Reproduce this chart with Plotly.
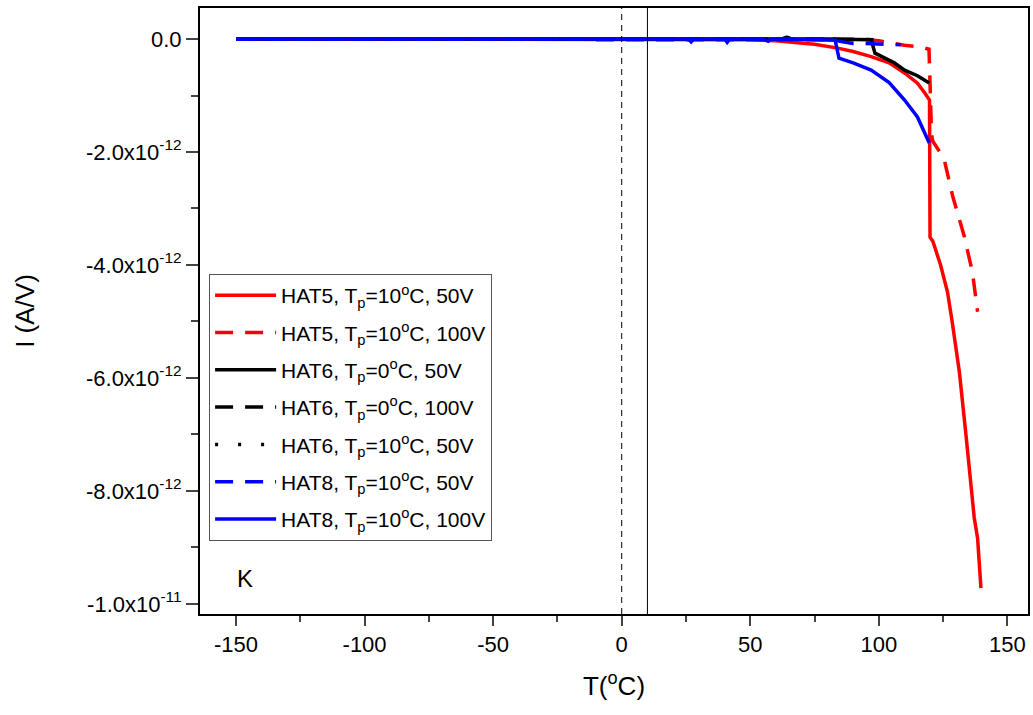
import plotly.graph_objects as go

S = 1e-12
# HAT5, Tp=10C, 50V (red solid)
t_hat5_50 = [-150, -100, -50, 0, 30, 50, 60, 65, 75, 84, 90, 97, 104, 110, 115, 117.8, 119.7, 119.9, 121, 124, 126.7, 128.5, 130, 131.3, 133.9, 135.2, 137.1, 138.4, 139.7]
i_hat5_50 = [0, 0, 0, 0, 0, -0.01, -0.03, -0.05, -0.09, -0.16, -0.22, -0.31, -0.42, -0.6, -0.78, -0.95, -1.08, -3.51, -3.58, -4.0, -4.48, -5.0, -5.54, -5.89, -7.02, -7.6, -8.48, -8.84, -9.72]
# HAT5, Tp=10C, 100V (red dashed)
t_hat5_100 = [-150, -100, -50, 0, 50, 80, 95, 100, 105, 110, 116, 119.5, 120.5, 121, 123, 125.4, 128.7, 131, 133.2, 136.4, 138.4]
i_hat5_100 = [0, 0, 0, 0, 0, 0, -0.01, -0.03, -0.07, -0.11, -0.14, -0.18, -1.7, -1.81, -1.95, -2.13, -2.78, -3.15, -3.49, -4.13, -4.83]
# HAT6, Tp=0C, 50V (black solid)
t_hat6_0_50 = [-150, -100, -50, 0, 50, 62, 64, 66, 80, 97, 98.5, 102, 106, 110, 115, 119.6]
i_hat6_0_50 = [0, 0, 0, 0, 0, 0, 0.03, 0, 0, -0.01, -0.25, -0.33, -0.42, -0.55, -0.65, -0.78]
# HAT6, Tp=0C, 100V (black dashed)
t_hat6_0_100 = [-150, -100, -50, 0, 50, 80, 95, 98]
i_hat6_0_100 = [0, 0, 0, 0, 0, 0, 0, -0.01]
# HAT6, Tp=10C, 50V (black dotted)
t_hat6_10_50 = [-150, -101, -100, -99, -50, 0, 50, 63, 64.5, 66, 90]
i_hat6_10_50 = [0, 0, 0.02, 0, 0, 0, 0, 0, 0.03, 0, 0]
# HAT8, Tp=10C, 50V (blue dashed)
t_hat8_50 = [-150, -100, -50, 0, 50, 80, 86, 90, 95, 100, 105, 108.5]
i_hat8_50 = [0, 0, 0, 0, 0, 0, -0.05, -0.08, -0.08, -0.09, -0.1, -0.1]
# HAT8, Tp=10C, 100V (blue solid)
t_hat8_100 = [-150, -100, -50, 0, 20, 26, 27, 28, 35, 40, 41, 42, 55, 57, 58, 62, 83, 84.5, 90, 97, 104, 110, 115, 119.6]
i_hat8_100 = [0, 0, 0, 0, 0, 0, -0.05, 0, 0, 0, -0.06, 0, 0, -0.04, 0, 0, -0.02, -0.34, -0.42, -0.55, -0.77, -1.08, -1.38, -1.84]

series = [
    ("HAT5, T<sub>p</sub>=10<sup>o</sup>C, 50V", t_hat5_50, i_hat5_50, "#ff0000", "solid"),
    ("HAT5, T<sub>p</sub>=10<sup>o</sup>C, 100V", t_hat5_100, i_hat5_100, "#ff0000", "18px,12px"),
    ("HAT6, T<sub>p</sub>=0<sup>o</sup>C, 50V", t_hat6_0_50, i_hat6_0_50, "#000000", "solid"),
    ("HAT6, T<sub>p</sub>=0<sup>o</sup>C, 100V", t_hat6_0_100, i_hat6_0_100, "#000000", "18px,12px"),
    ("HAT6, T<sub>p</sub>=10<sup>o</sup>C, 50V", t_hat6_10_50, i_hat6_10_50, "#000000", "3px,20px"),
    ("HAT8, T<sub>p</sub>=10<sup>o</sup>C, 50V", t_hat8_50, i_hat8_50, "#0000ff", "18px,12px"),
    ("HAT8, T<sub>p</sub>=10<sup>o</sup>C, 100V", t_hat8_100, i_hat8_100, "#0000ff", "solid"),
]

y_tickvals = [0, -2e-12, -4e-12, -6e-12, -8e-12, -1e-11]
y_ticktext = ["0.0", "-2.0x10<sup>-12</sup>", "-4.0x10<sup>-12</sup>", "-6.0x10<sup>-12</sup>",
              "-8.0x10<sup>-12</sup>", "-1.0x10<sup>-11</sup>"]
y_minor = [-1e-12, -3e-12, -5e-12, -7e-12, -9e-12]
x_tickvals = [-150, -100, -50, 0, 50, 100, 150]
x_ticktext = ["-150", "-100", "-50", "0", "50", "100", "150"]
x_minor = [-125, -75, -25, 25, 75, 125]

fig = go.Figure()
for k, (name, t, i, col, dash) in enumerate(series):
    fig.add_trace(go.Scatter(
        x=t, y=[v * S for v in i], mode="lines", name=name,
        legendgroup=f"g{k}",
        line=dict(color=col, width=3.5, dash=dash),
    ))

fig.add_shape(type="line", xref="x", yref="paper", x0=0, x1=0, y0=0, y1=1,
              line=dict(color="black", width=1, dash="6px,5px"))
fig.add_shape(type="line", xref="x", yref="paper", x0=10, x1=10, y0=0, y1=1,
              line=dict(color="black", width=1))

fig.add_annotation(text="K", xref="paper", yref="paper", x=0.054, y=0.059,
                   showarrow=False, font=dict(size=24, color="black"),
                   xanchor="center", yanchor="middle")

font_family = "Liberation Sans, Arial, sans-serif"
fig.update_layout(
    width=1033, height=715,
    margin=dict(l=200, r=3, t=8, b=101),
    plot_bgcolor="white", paper_bgcolor="white",
    font=dict(family=font_family, color="black", size=21),
    showlegend=True,
    legend=dict(x=0.011, y=0.561, xanchor="left", yanchor="top",
                bordercolor="#555555", borderwidth=1, bgcolor="white",
                font=dict(size=21), tracegroupgap=7, itemwidth=61),
    xaxis=dict(range=[-164, 158], tickvals=x_tickvals, ticktext=x_ticktext,
               ticks="outside", ticklen=10,
               tickwidth=1.5, showline=True, linewidth=2, linecolor="black", mirror=True,
               showgrid=False, zeroline=False, tickfont=dict(size=22),
               minor=dict(tickvals=x_minor, ticks="outside", ticklen=6, tickwidth=1.5),
               title=dict(text="T(<sup>o</sup>C)", font=dict(size=26), standoff=20)),
    yaxis=dict(range=[-10.18e-12, 0.55e-12], tickvals=y_tickvals, ticktext=y_ticktext,
               ticks="outside", ticklen=12, tickwidth=1.5, showline=True, linewidth=2,
               linecolor="black", mirror=True, showgrid=False, zeroline=False,
               tickfont=dict(size=22),
               minor=dict(tickvals=y_minor, ticks="outside", ticklen=7, tickwidth=1.5),
               title=dict(text="I (A/V)", font=dict(size=26), standoff=44)),
)

fig.write_html("out.html")
